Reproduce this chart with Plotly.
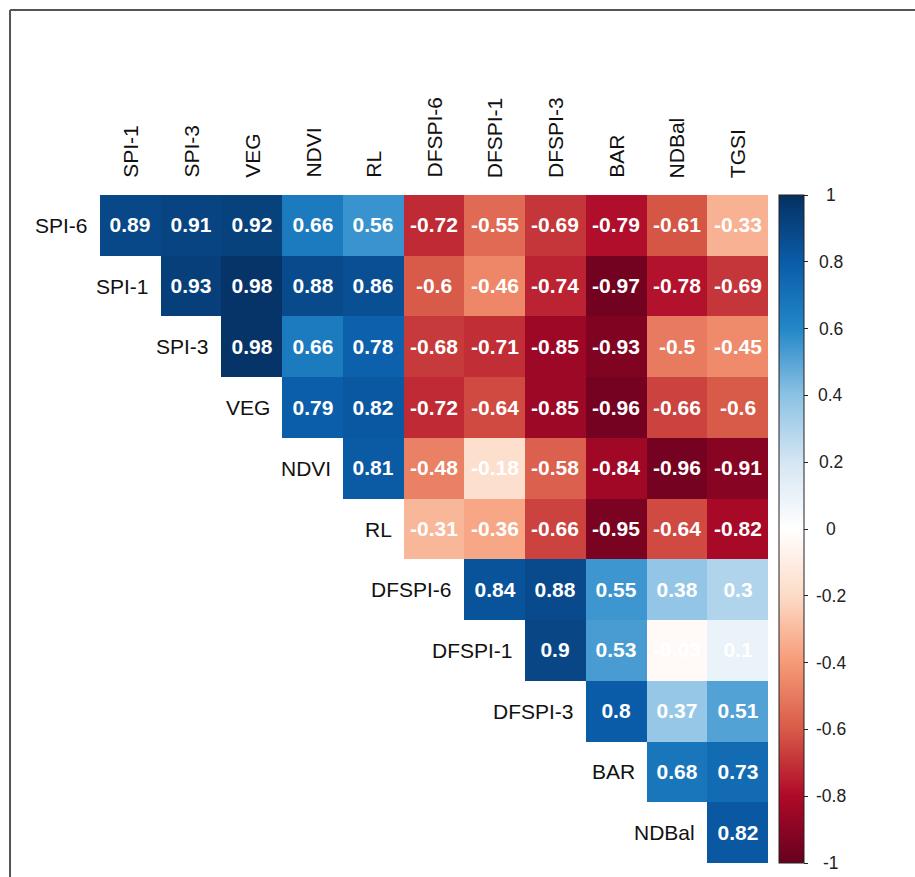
import plotly.graph_objects as go

# Variable names for the correlation matrix (upper triangle)
row_vars = ["SPI-6", "SPI-1", "SPI-3", "VEG", "NDVI", "RL",
            "DFSPI-6", "DFSPI-1", "DFSPI-3", "BAR", "NDBal"]
col_vars = ["SPI-1", "SPI-3", "VEG", "NDVI", "RL", "DFSPI-6",
            "DFSPI-1", "DFSPI-3", "BAR", "NDBal", "TGSI"]

# Correlation coefficients, one list per row, starting at the diagonal
r_spi6 = [0.89, 0.91, 0.92, 0.66, 0.56, -0.72, -0.55, -0.69, -0.79, -0.61, -0.33]
r_spi1 = [0.93, 0.98, 0.88, 0.86, -0.6, -0.46, -0.74, -0.97, -0.78, -0.69]
r_spi3 = [0.98, 0.66, 0.78, -0.68, -0.71, -0.85, -0.93, -0.5, -0.45]
r_veg = [0.79, 0.82, -0.72, -0.64, -0.85, -0.96, -0.66, -0.6]
r_ndvi = [0.81, -0.48, -0.18, -0.58, -0.84, -0.96, -0.91]
r_rl = [-0.31, -0.36, -0.66, -0.95, -0.64, -0.82]
r_dfspi6 = [0.84, 0.88, 0.55, 0.38, 0.3]
r_dfspi1 = [0.9, 0.53, -0.03, 0.1]
r_dfspi3 = [0.8, 0.37, 0.51]
r_bar = [0.68, 0.73]
r_ndbal = [0.82]

rows = [r_spi6, r_spi1, r_spi3, r_veg, r_ndvi, r_rl,
        r_dfspi6, r_dfspi1, r_dfspi3, r_bar, r_ndbal]

# Colour bar tick values
tick_vals = [1, 0.8, 0.6, 0.4, 0.2, 0, -0.2, -0.4, -0.6, -0.8, -1]

n = len(col_vars)
z = []
txt = []
for i, vals in enumerate(rows):
    zr = [None] * i + list(vals)
    z.append(zr)
    txt.append(["" if v is None else f"{v:g}" for v in zr])

# Diverging red-white-blue palette, -1 .. 1 in steps of 0.2
rdbu = ["#67001F", "#AE0A28", "#D85A48", "#F69A76", "#FDDBC7", "#FFFFFF",
        "#D5E6F3", "#8CC2E4", "#2387C8", "#0A5CA8", "#053061"]
colorscale = [[k / (len(rdbu) - 1), c] for k, c in enumerate(rdbu)]

FONT = "Liberation Sans, Arial, sans-serif"
ZMIN, ZMAX = -1, 1
CB_X = 1.0165  # colour bar left edge, paper units

fig = go.Figure(go.Heatmap(
    z=z,
    x=list(range(n)),
    y=list(range(len(row_vars))),
    text=txt,
    texttemplate="%{text}",
    textfont=dict(family=FONT, size=21, color="white", weight="bold"),
    colorscale=colorscale,
    zmin=ZMIN, zmax=ZMAX,
    hoverongaps=False,
    colorbar=dict(
        thickness=25, len=1, lenmode="fraction",
        x=CB_X, xanchor="left", xpad=0,
        y=0.5, yanchor="middle", ypad=0,
        outlinewidth=1, outlinecolor="#222",
        ticks="outside", ticklen=4, tickcolor="#222",
        tickvals=tick_vals, showticklabels=False,
    ),
))

annotations = []
# Row labels sit just left of the first cell in each row
for i, name in enumerate(row_vars):
    annotations.append(dict(
        x=i - 0.5, y=i, xref="x", yref="y", text=name, showarrow=False,
        xanchor="right", yanchor="middle", xshift=-10,
        font=dict(family=FONT, size=21, color="#111"),
    ))
# Column labels, rotated, above the grid
for j, name in enumerate(col_vars):
    annotations.append(dict(
        x=j, y=-0.5, xref="x", yref="y", text=name, showarrow=False,
        textangle=-90, xanchor="center", yanchor="bottom", yshift=15,
        font=dict(family=FONT, size=21, color="#111"),
    ))
# Centred colour bar labels (the bar spans the full plot height)
for v in tick_vals:
    annotations.append(dict(
        x=1.0943, y=(v - ZMIN) / (ZMAX - ZMIN), xref="paper", yref="paper",
        text=f"{v:g}", showarrow=False, xanchor="center", yanchor="middle",
        font=dict(family=FONT, size=17.5, color="#222"),
    ))

# Frame lines along the left and top edges
frame = [
    dict(type="line", xref="paper", yref="paper",
         x0=-0.1347, x1=-0.1347, y0=-0.05, y1=1.277,
         line=dict(color="#555", width=2)),
    dict(type="line", xref="paper", yref="paper",
         x0=-0.1347, x1=1.25, y0=1.277, y1=1.277,
         line=dict(color="#555", width=2)),
]

fig.update_layout(
    width=915, height=877,
    margin=dict(l=100, r=147, t=195, b=14),
    paper_bgcolor="white", plot_bgcolor="white",
    xaxis=dict(range=[-0.5, n - 0.5], visible=False, fixedrange=True),
    yaxis=dict(range=[len(row_vars) - 0.5, -0.5], visible=False, fixedrange=True),
    annotations=annotations,
    shapes=frame,
    showlegend=False,
)

fig.write_html("out.html")
